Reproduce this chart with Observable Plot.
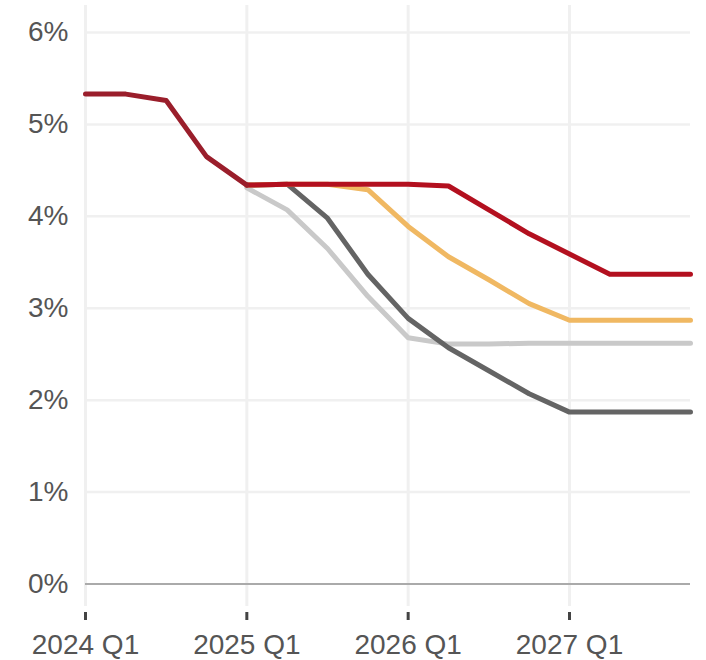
<!DOCTYPE html>
<html>
<head>
<meta charset="utf-8">
<script src="https://cdn.jsdelivr.net/npm/d3@7"></script>
<script src="https://cdn.jsdelivr.net/npm/@observablehq/plot@0.6"></script>
<style>
  html, body { margin: 0; padding: 0; background: #fff; }
</style>
</head>
<body>
<div id="chart"></div>
<script>
// Quarter labels (x categories)
const quarters = [
  "2024 Q1","2024 Q2","2024 Q3","2024 Q4",
  "2025 Q1","2025 Q2","2025 Q3","2025 Q4",
  "2026 Q1","2026 Q2","2026 Q3","2026 Q4",
  "2027 Q1","2027 Q2","2027 Q3","2027 Q4"
];
const xTickIdx = [0, 4, 8, 12];
const yTicks = [0, 1, 2, 3, 4, 5, 6];

// History: 2024 Q1 .. 2025 Q1
const history = [5.33, 5.33, 5.26, 4.65, 4.34];
// Scenarios: 2025 Q1 .. 2027 Q4
const scenarioRed    = [4.34, 4.35, 4.35, 4.35, 4.35, 4.33, 4.07, 3.81, 3.59, 3.37, 3.37, 3.37];
const scenarioOrange = [4.34, 4.35, 4.35, 4.29, 3.89, 3.56, 3.31, 3.05, 2.87, 2.87, 2.87, 2.87];
const scenarioDark   = [4.34, 4.35, 3.98, 3.37, 2.89, 2.57, 2.32, 2.07, 1.87, 1.87, 1.87, 1.87];
const scenarioLight  = [4.31, 4.07, 3.65, 3.13, 2.68, 2.61, 2.61, 2.62, 2.62, 2.62, 2.62, 2.62];
const scenarioStart = 4;

const histRows = history.map((v, i) => ({q: i, v}));
const scen = arr => arr.map((v, i) => ({q: i + scenarioStart, v}));

const chart = Plot.plot({
  width: 706,
  height: 660,
  marginLeft: 85,
  marginRight: 16,
  marginTop: 5,
  marginBottom: 54,
  style: {fontFamily: "'Liberation Sans', Arial, sans-serif", fontSize: "28px", color: "#555", background: "#fff"},
  x: {domain: [0, quarters.length - 1]},
  y: {domain: [-0.245, 6.294]},
  marks: [
    Plot.ruleX(xTickIdx, {stroke: "#f0f0f0", strokeWidth: 3}),
    Plot.ruleY(yTicks.filter(d => d > 0), {x1: 0, x2: quarters.length - 1, stroke: "#f0f0f0", strokeWidth: 2.5}),
    Plot.ruleY([0], {x1: 0, x2: quarters.length - 1, stroke: "#aaaaaa", strokeWidth: 2}),
    Plot.line(scen(scenarioLight),  {x: "q", y: "v", stroke: "#c9c9c9", strokeWidth: 5}),
    Plot.line(scen(scenarioDark),   {x: "q", y: "v", stroke: "#646464", strokeWidth: 5}),
    Plot.line(scen(scenarioOrange), {x: "q", y: "v", stroke: "#f0b862", strokeWidth: 5}),
    Plot.line(scen(scenarioRed),    {x: "q", y: "v", stroke: "#b3101f", strokeWidth: 5}),
    Plot.line(histRows,             {x: "q", y: "v", stroke: "#9a1e2b", strokeWidth: 5}),
    Plot.axisY({ticks: yTicks, tickFormat: d => d + "%", tickSize: 0, tickPadding: 17, fontSize: 28, fill: "#555", label: null}),
    Plot.axisX({ticks: xTickIdx, tickFormat: i => quarters[i], tickSize: 8, dy: 6, tickPadding: 14, fontSize: 28, fill: "#555", stroke: "#444", strokeWidth: 3, label: null})
  ]
});
document.getElementById("chart").appendChild(chart);
</script>
</body>
</html>
